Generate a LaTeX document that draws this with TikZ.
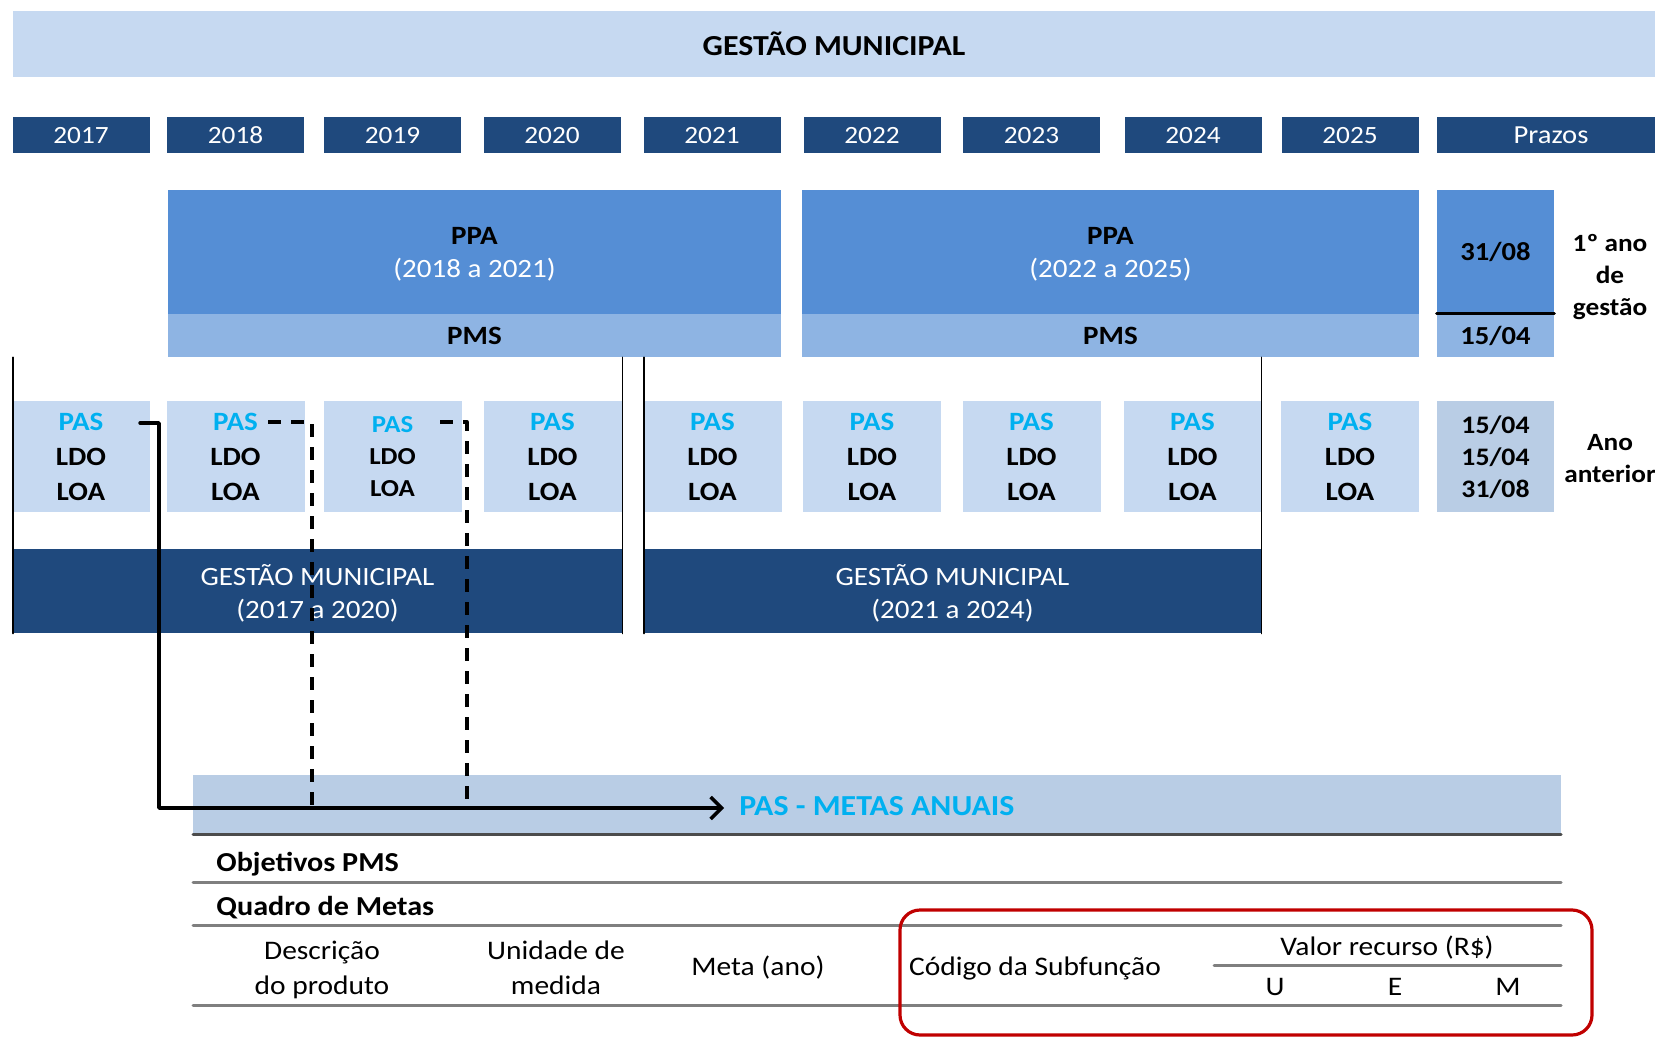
\documentclass[tikz,border=0pt]{standalone}
\usepackage{fontspec}
\setmainfont{Carlito}[FakeStretch=1.1]
\usetikzlibrary{arrows.meta}
\definecolor{faixa}{HTML}{C6D9F1}
\definecolor{escuro}{HTML}{1F497D}
\definecolor{ppacor}{HTML}{558ED5}
\definecolor{pmscor}{HTML}{8EB4E3}
\definecolor{prazocor}{HTML}{B9CDE5}
\definecolor{ciano}{HTML}{00B0F0}
\definecolor{linha}{HTML}{7F7F7F}
\definecolor{vermelho}{HTML}{C00000}
\begin{document}
\begin{tikzpicture}[x=0.5pt, y=-0.5pt, line join=round, line cap=round,
	every node/.style={inner sep=0pt, align=center},
	ano/.style={fill=escuro, text=white, minimum width=68.5pt, minimum height=18pt, text depth=-2pt, font=\fontsize{12.4}{15}\selectfont},
	caixa/.style={fill=faixa, minimum width=69pt, minimum height=55.5pt, text depth=-2.5pt, font=\fontsize{13.2}{17.5}\selectfont\bfseries},
	ppa/.style={fill=ppacor, minimum height=62pt, text depth=-1.8pt, font=\fontsize{13.2}{16.5}\selectfont},
	pms/.style={fill=pmscor, minimum height=21.5pt, text depth=-2pt, font=\fontsize{13.2}{16}\selectfont\bfseries},
	gestao/.style={fill=escuro, text=white, minimum height=42pt, text depth=-0.6pt, font=\fontsize{13.2}{16.5}\selectfont},
	lado/.style={font=\fontsize{12.4}{16}\selectfont\bfseries},
	tab/.style={font=\fontsize{13.4}{17.5}\selectfont},
	fio/.style={draw=linha, line width=1.5pt},
	seta/.style={line width=1.7pt, -{Straight Barb[length=5.5pt,width=11pt]}, shorten >=7.5pt},
	tracejado/.style={line width=1.65pt, line cap=butt, dash pattern=on 6.5pt off 5pt}]
	\useasboundingbox (0,0) rectangle (1655,1038);
	\node[fill=faixa, minimum width=821pt, minimum height=33.25pt, font=\fontsize{14.5}{17}\selectfont\bfseries] (titulo) at (834,44) {GESTÃO MUNICIPAL};
	\foreach \a/\cx in {2017/81,2018/235.5,2019/392.5,2020/552,2021/712,2022/872,2023/1031.5,2024/1193,2025/1350}
		\node[ano] (a\a) at (\cx,135) {\a};
	\node[ano, minimum width=114pt, font=\fontsize{13}{15}\selectfont] (prazos) at (1551,135) {Prazos};
	\node[ppa, minimum width=306.5pt] (ppa1) at (474.5,252) {{\bfseries PPA}\\\textcolor{white}{(2018 a 2021)}};
	\node[pms, minimum width=306.5pt] (pms1) at (474.5,335.5) {PMS};
	\node[ppa, minimum width=308.5pt] (ppa2) at (1110.5,252) {{\bfseries PPA}\\\textcolor{white}{(2022 a 2025)}};
	\node[pms, minimum width=308.5pt] (pms2) at (1110.5,335.5) {PMS};
	\node[ppa, minimum width=58.5pt, minimum height=61.5pt, text depth=0pt, font=\fontsize{13}{16}\selectfont\bfseries] (z1) at (1495.5,251.5) {31/08};
	\node[pms, minimum width=58.5pt, font=\fontsize{13}{16}\selectfont\bfseries] (z2) at (1495.5,335.5) {15/04};
	\draw[line width=1.5pt] (z1.south west) -- (z1.south east);
	\node[lado, text depth=0.5pt] (l1) at (1610,275) {1º ano\\de\\gestão};
	\foreach \a/\cx in {2017/81,2018/235.5,2020/552.5,2021/712.5,2022/872,2023/1031.5,2024/1192.5,2025/1350}
		\node[caixa] (p\a) at (\cx,456.5) {\textcolor{ciano}{PAS}\\LDO\\LOA};
	\node[caixa, font=\fontsize{12.2}{16}\selectfont\bfseries] (p2019) at (392.5,456.5) {\textcolor{ciano}{PAS}\\LDO\\LOA};
	\node[caixa, fill=prazocor, minimum width=58.5pt, font=\fontsize{12.6}{16}\selectfont\bfseries] (d1) at (1495.5,456.5) {15/04\\15/04\\31/08};
	\node[lado] (l2) at (1610,459) {Ano\\anterior};
	\node[gestao, minimum width=304.5pt] (g1) at (317.5,591) {GESTÃO MUNICIPAL\\(2017 a 2020)};
	\node[gestao, minimum width=308.5pt] (g2) at (952.5,591) {GESTÃO MUNICIPAL\\(2021 a 2024)};
	\draw[line width=0.9pt] (g1.south west) -- (g1.south west |- pms1.south)
		(g1.south east) -- (g1.south east |- pms1.south)
		(g2.south west) -- (g2.south west |- pms1.south)
		(g2.south east) -- (g2.south east |- pms2.south);
	\fill[prazocor] (193,775) rectangle (1561,834);
	\node[anchor=west, text=ciano, font=\fontsize{14.5}{17}\selectfont\bfseries] (metas) at (739,806) {PAS - METAS ANUAIS};
	\draw[fio, draw=linha!60!black] (193,834) -- (1561,834);
	\draw[fio] (193,882) -- (1561,882) (193,925) -- (1561,925) (193,1005) -- (1561,1005) (1214,965) -- (1561,965);
	\node[anchor=west, font=\fontsize{13.7}{16}\selectfont\bfseries] (obj) at (216,864) {Objetivos PMS};
	\node[anchor=west, font=\fontsize{13.7}{16}\selectfont\bfseries] (quadro) at (216,908) {Quadro de Metas};
	\node[tab] (c1) at (322,969.5) {Descrição\\do produto};
	\node[tab] (c2) at (556,967.5) {Unidade de\\medida};
	\node[tab] (c3) at (758,968) {Meta (ano)};
	\node[tab] (c4) at (1035,968) {Código da Subfunção};
	\node[tab] (c5) at (1387,948) {Valor recurso (R\$)};
	\node[tab] (u) at (1275,987) {U};
	\node[tab] (e) at (1395,987) {E};
	\node[tab] (m) at (1508,987) {M};
	\draw[draw=vermelho, line width=1.6pt, rounded corners=10pt] (900,910) rectangle (1592,1035);
	\coordinate (s17) at (140,423); \coordinate (k17) at (159,808);
	\coordinate (s18) at (268,422); \coordinate (k18) at (312,808);
	\coordinate (s19) at (440,422); \coordinate (k19) at (467,808);
	\draw[tracejado] (s18) -| (k18);
	\draw[tracejado] (s19) -| (k19);
	\draw[seta] (s17) -| (k17) -- (k17 -| metas.west);
\end{tikzpicture}
\end{document}
